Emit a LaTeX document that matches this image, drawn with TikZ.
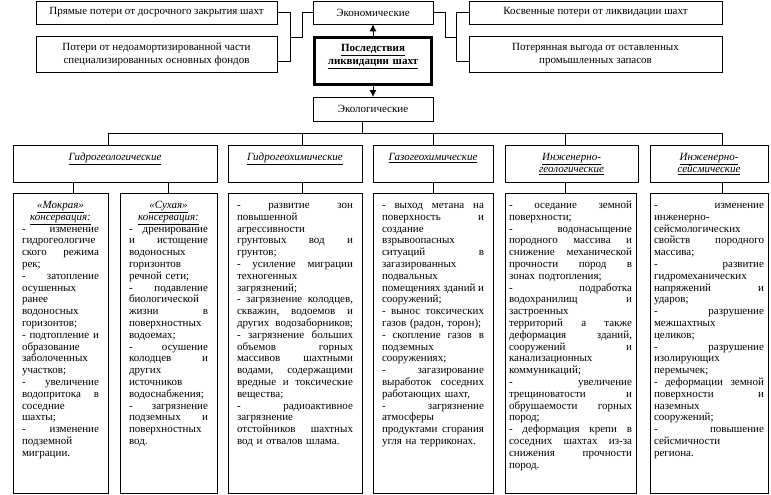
\documentclass[tikz,border=0pt]{standalone}
\usepackage{fontspec}
\setmainfont{Liberation Serif}
\usetikzlibrary{arrows.meta,positioning}
\definecolor{ink}{HTML}{000000}

\begin{document}
\begin{tikzpicture}[x=1pt, y=-1pt,
    box/.style={rectangle, draw=ink, line width=0.8pt, align=center, inner sep=0pt, minimum height=23pt, font=\fontsize{11}{13}\selectfont},
    core/.style={rectangle, draw=ink, line width=3pt, align=center, anchor=north, inner xsep=0pt, inner ysep=3pt, minimum width=117pt, text width=110pt, text height=11pt, text depth=30pt, font=\fontsize{11}{13.5}\selectfont\bfseries},
    head/.style={rectangle, draw=ink, line width=0.8pt, align=center, anchor=north, inner xsep=0pt, inner ysep=3pt, text height=12pt, text depth=19pt, font=\fontsize{11}{12.5}\selectfont\itshape},
    body/.style={rectangle, draw=ink, line width=0.8pt, align=left, anchor=north, inner xsep=0pt, inner ysep=3pt, text height=12pt, text depth=282pt, font=\fontsize{11}{11.8}\selectfont},
    link/.style={line width=0.8pt, color=ink},
    arrow/.style={-{Latex[length=7pt,width=7pt]}, line width=0.8pt, color=ink}
]
\useasboundingbox (0,0) rectangle (771,495);

% top row
\node[box, minimum width=241pt] (direct) at (156.5,12.5) {Прямые потери от досрочного закрытия шахт};
\node[box, minimum width=241pt, minimum height=36pt, below=12pt of direct] (amort) {Потери от недоамортизированной части\\специализированных основных фондов};
\node[box, minimum width=120pt] (econ) at (373,12.5) {Экономические};
\node[core] (main) at (373,36) {\underline{Последствия}\\\underline{ликвидации шахт}};
\node[box, minimum width=120pt, minimum height=24pt, below=11pt of main] (ecol) {Экологические};
\node[box, minimum width=253pt] (indirect) at (595.5,12.5) {Косвенные потери от ликвидации шахт};
\node[box, minimum width=253pt, minimum height=36pt, below=12pt of indirect] (lost) {Потерянная выгода от оставленных\\промышленных запасов};

\coordinate (lmid) at (290,37);
\coordinate (rmid) at (457,37);
\draw[link] (direct.east) -- ++(13,0) |- ([yshift=-7pt]amort.east);
\draw[link] (lmid) -- ++(12,0) |- (econ.west);
\draw[link] (econ.east) -- ++(12,0) |- (rmid);
\draw[link] (indirect.west) -- ++(-12,0) |- ([yshift=-7pt]lost.west);
\draw[arrow] (main) -- (econ);
\draw[arrow] (main) -- (ecol);

% groups
\node[head, minimum width=204pt, text width=190pt] (hydrogeo) at (115,145) {\underline{Гидрогеологические}};
\node[head, minimum width=134pt, text width=124pt] (hydrochem) at (295,145) {\underline{Гидрогеохимические}};
\node[head, minimum width=120pt, text width=110pt] (gaschem) at (433,145) {\underline{Газогеохимические}};
\node[head, minimum width=133pt, text width=123pt] (enggeo) at (571.5,145) {\underline{Инженерно-}\\\underline{геологические}};
\node[head, minimum width=118pt, text width=110pt] (engseis) at (709,145) {\underline{Инженерно-}\\\underline{сейсмические}};

\coordinate (busL) at (108,133);
\coordinate (busR) at (722,133);
\draw[link] ([xshift=-11pt]ecol.south) -- ++(0,12);
\draw[link] (busL) -- (busR);
\foreach \h/\x in {hydrogeo/108, hydrochem/302, gaschem/433, enggeo/565, engseis/722}
    \draw[link] (\x,133) -- (\x,133 |- \h.north);

% lists
\node[body, minimum width=95pt, text width=77pt] (wetcons) at (60.5,193) {%
\hfill\underline{\textit{«Мокрая»}}\hfill\mbox{}\\
\hfill\underline{\textit{консервация:}}\hfill\mbox{}\\
-\hfill изменение\\
гидрогеологиче\\
ского\hfill режима\\
рек;\\
-\hfill затопление\\
осушенных\\
ранее\\
водоносных\\
горизонтов;\\
-\hfill подтопление\hfill и\\
образование\\
заболоченных\\
участков;\\
-\hfill увеличение\\
водопритока\hfill в\\
соседние\\
шахты;\\
-\hfill изменение\\
подземной\\
миграции.};
\node[body, minimum width=97pt, text width=79pt] (drycons) at (168.5,193) {%
\hfill\underline{\textit{«Сухая»}}\hfill\mbox{}\\
\hfill\underline{\textit{консервация:}}\hfill\mbox{}\\
-\hfill дренирование\\
и\hfill истощение\\
водоносных\\
горизонтов\\
речной сети;\\
-\hfill подавление\\
биологической\\
жизни\hfill в\\
поверхностных\\
водоемах;\\
-\hfill осушение\\
колодцев\hfill и\\
других\\
источников\\
водоснабжения;\\
-\hfill загрязнение\\
подземных\hfill и\\
поверхностных\\
вод.};
\node[body, minimum width=134pt, text width=116pt] (chemlist) at (295,193) {%
-\hfill развитие\hfill зон\\
повышенной\\
агрессивности\\
грунтовых\hfill вод\hfill и\\
грунтов;\\
-\hfill усиление\hfill миграции\\
техногенных\\
загрязнений;\\
-\hfill загрязнение\hfill колодцев,\\
скважин,\hfill водоемов\hfill и\\
других\hfill водозаборников;\\
-\hfill загрязнение\hfill больших\\
объемов\hfill горных\\
массивов\hfill шахтными\\
водами,\hfill содержащими\\
вредные\hfill и\hfill токсические\\
вещества;\\
-\hfill радиоактивное\\
загрязнение\\
отстойников\hfill шахтных\\
вод и отвалов шлама.};
\node[body, minimum width=120pt, text width=102pt] (gaslist) at (433,193) {%
-\hfill выход\hfill метана\hfill на\\
поверхность\hfill и\\
создание\\
взрывоопасных\\
ситуаций\hfill в\\
загазированных\\
подвальных\\
помещениях\hfill зданий\hfill и\\
сооружений;\\
-\hfill вынос\hfill токсических\\
газов (радон, торон);\\
-\hfill скопление\hfill газов\hfill в\\
подземных\\
сооружениях;\\
-\hfill загазирование\\
выработок\hfill соседних\\
работающих шахт,\\
-\hfill загрязнение\\
атмосферы\\
продуктами\hfill сгорания\\
угля на терриконах.};
\node[body, minimum width=131pt, text width=123pt] (geolist) at (570.5,193) {%
-\hfill оседание\hfill земной\\
поверхности;\\
-\hfill водонасыщение\\
породного\hfill массива\hfill и\\
снижение\hfill механической\\
прочности\hfill пород\hfill в\\
зонах подтопления;\\
-\hfill подработка\\
водохранилищ\hfill и\\
застроенных\\
территорий\hfill а\hfill также\\
деформация\hfill зданий,\\
сооружений\hfill и\\
канализационных\\
коммуникаций;\\
-\hfill увеличение\\
трещиноватости\hfill и\\
обрушаемости\hfill горных\\
пород;\\
-\hfill деформация\hfill крепи\hfill в\\
соседних\hfill шахтах\hfill из-за\\
снижения\hfill прочности\\
пород.};
\node[body, minimum width=118pt, text width=110pt] (seislist) at (709,193) {%
-\hfill изменение\\
инженерно-\\
сейсмологических\\
свойств\hfill породного\\
массива;\\
-\hfill развитие\\
гидромеханических\\
напряжений\hfill и\\
ударов;\\
-\hfill разрушение\\
межшахтных\\
целиков;\\
-\hfill разрушение\\
изолирующих\\
перемычек;\\
-\hfill деформации\hfill земной\\
поверхности\hfill и\\
наземных\\
сооружений;\\
-\hfill повышение\\
сейсмичности\\
региона.};

\foreach \b/\h/\x in {wetcons/hydrogeo/73, drycons/hydrogeo/168, chemlist/hydrochem/302, gaslist/gaschem/433, geolist/enggeo/565, seislist/engseis/722}
    \draw[link] (\x,0 |- \h.south) -- (\x,0 |- \b.north);
\end{tikzpicture}
\end{document}
